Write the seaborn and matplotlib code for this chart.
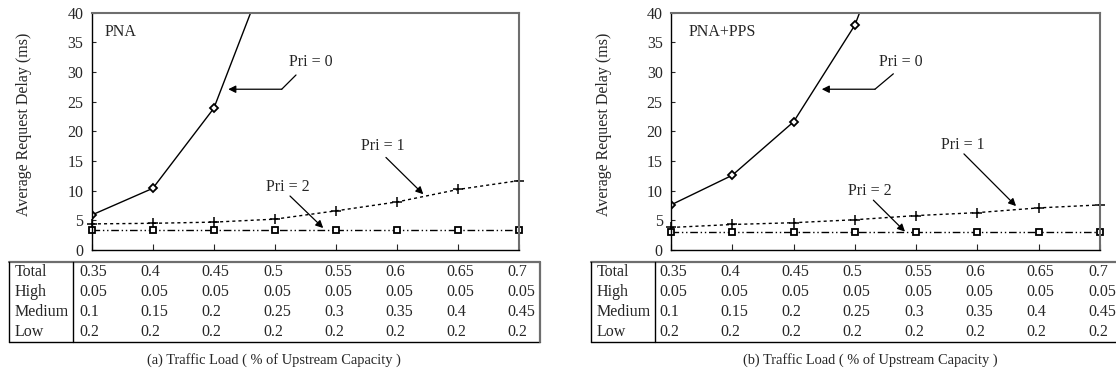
import matplotlib
matplotlib.use("Agg")
import matplotlib.pyplot as plt
import matplotlib.transforms as mtransforms
from matplotlib.lines import Line2D
import numpy as np
import pandas as pd
import seaborn as sns

# ---------------- data ----------------
load = [0.35, 0.4, 0.45, 0.5, 0.55, 0.6, 0.65, 0.7]
total_labels = ["0.35", "0.4", "0.45", "0.5", "0.55", "0.6", "0.65", "0.7"]
high_labels = ["0.05", "0.05", "0.05", "0.05", "0.05", "0.05", "0.05", "0.05"]
medium_labels = ["0.1", "0.15", "0.2", "0.25", "0.3", "0.35", "0.4", "0.45"]
low_labels = ["0.2", "0.2", "0.2", "0.2", "0.2", "0.2", "0.2", "0.2"]
row_names = ["Total", "High", "Medium", "Low"]

pna_pri0 = [5.9, 10.4, 23.9, 50.6]
pna_pri1 = [4.4, 4.5, 4.7, 5.2, 6.6, 8.1, 10.2, 11.7]
pna_pri2 = [3.3, 3.3, 3.3, 3.3, 3.3, 3.3, 3.3, 3.3]

pps_pri0 = [7.6, 12.6, 21.6, 37.9, 65.0]
pps_pri1 = [3.8, 4.3, 4.6, 5.1, 5.8, 6.3, 7.1, 7.6]
pps_pri2 = [3.0, 3.0, 3.0, 3.0, 3.0, 3.0, 3.0, 3.0]

panel_titles = ["PNA", "PNA+PPS"]
xlabels = ["(a) Traffic Load ( % of Upstream Capacity )",
           "(b) Traffic Load ( % of Upstream Capacity )"]
ylabel = "Average Request Delay (ms)"

# ---------------- style ----------------
sns.set_style("white")
plt.rcParams["font.family"] = ["Liberation Serif", "DejaVu Serif"]
FS = 11.5

W, H = 1116, 374
fig = plt.figure(figsize=(W / 100, H / 100), dpi=100)


def fx(px):
    return px / W


def fy(py):
    return 1 - py / H


ax_top, ax_bot = 12.7, 250.0
axes_px = [(91.8, 519.0), (671.0, 1100.0)]
axes = []
for (l, r) in axes_px:
    ax = fig.add_axes([fx(l), fy(ax_bot), (r - l) / W, (ax_bot - ax_top) / H])
    axes.append(ax)

series = [
    (pna_pri0, pna_pri1, pna_pri2),
    (pps_pri0, pps_pri1, pps_pri2),
]

for ax, (p0, p1, p2) in zip(axes, series):
    sns.lineplot(x=load[:len(p0)], y=p0, ax=ax, color="black", lw=1.0,
                 marker="D", markersize=4, markerfacecolor="white",
                 markeredgecolor="black", markeredgewidth=1.3)
    sns.lineplot(x=load, y=p1, ax=ax, color="black", lw=1.0,
                 marker="+", markersize=7, markeredgewidth=1.1,
                 markeredgecolor="black", clip_on=False)
    ax.lines[-1].set_dashes((2.2, 2.2))
    sns.lineplot(x=load, y=p2, ax=ax, color="black", lw=1.0,
                 marker="s", markersize=4.5, markerfacecolor="white",
                 markeredgecolor="black", markeredgewidth=1.3, clip_on=False)
    ax.lines[-1].set_dashes((5.5, 2.0, 1.0, 2.0, 1.0, 2.0))

    ax.set_xlim(0.35, 0.7)
    ax.set_ylim(0, 40)
    ax.set_xticks(load)
    ax.set_xticklabels([])
    ax.set_yticks(range(0, 41, 5))
    ax.tick_params(axis="x", direction="in", length=4, width=0.8,
                   bottom=True, top=False, labelbottom=False)
    ax.tick_params(axis="y", direction="in", length=3, width=0.8,
                   left=True, right=False, labelsize=FS, pad=6)
    for s in ["left", "bottom"]:
        ax.spines[s].set_color("black")
        ax.spines[s].set_linewidth(1.0)
    for s in ["top", "right"]:
        ax.spines[s].set_color("#6e6e6e")
        ax.spines[s].set_linewidth(1.5)
    ax.set_ylabel(ylabel, fontsize=FS)
    ax.set_xlabel("")
    ax.grid(False)

axes[0].yaxis.set_label_coords(-0.141, 0.531)
axes[1].yaxis.set_label_coords(-0.138, 0.531)

# ---------------- in-plot text & arrows ----------------
arrow_kw = dict(arrowstyle="-|>", color="black", lw=0.9, mutation_scale=11,
                shrinkA=0, shrinkB=0)

a, b = axes
a.text(0.3608, 36.7, panel_titles[0], fontsize=FS, ha="left", va="center")
b.text(0.3647, 36.7, panel_titles[1], fontsize=FS, ha="left", va="center")

# panel (a)
a.text(0.5292, 31.7, "Pri = 0", fontsize=FS, ha="center", va="center")
a.plot([0.5173, 0.5056], [29.5, 27.1], color="black", lw=0.9)
a.annotate("", xy=(0.4618, 27.1), xytext=(0.5056, 27.1), arrowprops=arrow_kw)
a.text(0.5887, 17.6, "Pri = 1", fontsize=FS, ha="center", va="center")
a.annotate("", xy=(0.6216, 9.4), xytext=(0.5910, 15.6), arrowprops=arrow_kw)
a.text(0.5107, 10.7, "Pri = 2", fontsize=FS, ha="center", va="center")
a.annotate("", xy=(0.5396, 3.7), xytext=(0.5124, 9.1), arrowprops=arrow_kw)

# panel (b)
b.text(0.5379, 31.7, "Pri = 0", fontsize=FS, ha="center", va="center")
b.plot([0.5314, 0.5164], [29.7, 27.1], color="black", lw=0.9)
b.annotate("", xy=(0.4730, 27.1), xytext=(0.5164, 27.1), arrowprops=arrow_kw)
b.text(0.5881, 17.7, "Pri = 1", fontsize=FS, ha="center", va="center")
b.annotate("", xy=(0.6315, 7.4), xytext=(0.5890, 16.2), arrowprops=arrow_kw)
b.text(0.5126, 10.0, "Pri = 2", fontsize=FS, ha="center", va="center")
b.annotate("", xy=(0.5409, 3.1), xytext=(0.5151, 8.4), arrowprops=arrow_kw)

# ---------------- tables under the axes ----------------
tab_top, tab_bot = 261.7, 341.7
row_y = [272.5, 292.0, 312.0, 331.5]
table_geom = [
    # left border, row-label left, divider, right border
    (8.6, 15.0, 72.5, 540.4),
    (591.2, 596.5, 654.7, 1121.0),
]
rows = [total_labels, high_labels, medium_labels, low_labels]

for ax, (lb, rl, dv, rb), xl, cx in zip(axes, table_geom, xlabels, [274.0, 870.0]):
    # frame
    fig.add_artist(Line2D([fx(lb), fx(rb)], [fy(tab_top), fy(tab_top)],
                          color="#6e6e6e", lw=1.6, transform=fig.transFigure))
    fig.add_artist(Line2D([fx(lb), fx(rb)], [fy(tab_bot), fy(tab_bot)],
                          color="black", lw=1.0, transform=fig.transFigure))
    fig.add_artist(Line2D([fx(lb), fx(lb)], [fy(tab_top), fy(tab_bot)],
                          color="black", lw=1.0, transform=fig.transFigure))
    fig.add_artist(Line2D([fx(rb), fx(rb)], [fy(tab_top), fy(tab_bot)],
                          color="#6e6e6e", lw=1.6, transform=fig.transFigure))
    fig.add_artist(Line2D([fx(dv), fx(dv)], [fy(tab_top), fy(tab_bot)],
                          color="black", lw=1.0, transform=fig.transFigure))
    # row names
    for name, yy in zip(row_names, row_y):
        fig.text(fx(rl), fy(yy), name, fontsize=FS, ha="left", va="center")
    # values, aligned with the category positions of the axis
    blend = mtransforms.blended_transform_factory(ax.transData, fig.transFigure)
    offs = blend + mtransforms.ScaledTranslation(-12 / 100, 0, fig.dpi_scale_trans)
    for labels, yy in zip(rows, row_y):
        for xv, lab in zip(load, labels):
            fig.text(xv, fy(yy), lab, fontsize=FS, ha="left", va="center",
                     transform=offs)
    fig.text(fx(cx), fy(360), xl, fontsize=FS * 0.9, ha="center", va="center")

fig.savefig("out.png", dpi=100)
